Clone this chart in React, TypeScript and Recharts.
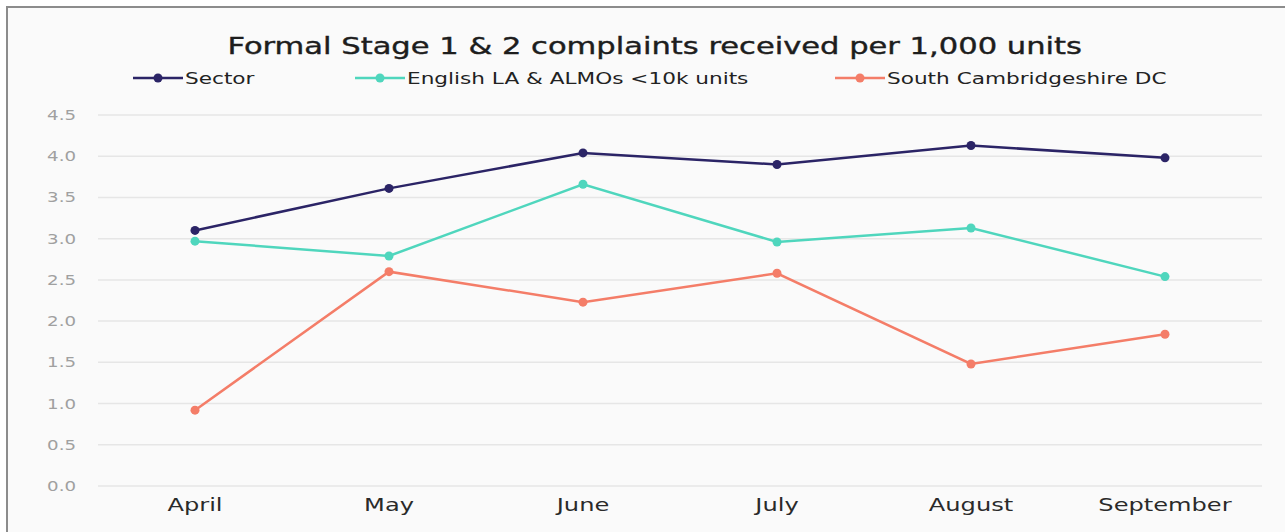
import React from "react"
import { LineChart, Line, XAxis, YAxis, CartesianGrid } from "recharts"

const months = ["April", "May", "June", "July", "August", "September"]
const sector = [3.1, 3.61, 4.04, 3.9, 4.13, 3.98]
const englishLA = [2.97, 2.79, 3.66, 2.96, 3.13, 2.54]
const southCambs = [0.92, 2.6, 2.23, 2.58, 1.48, 1.84]
const yTicks = [0, 0.5, 1, 1.5, 2, 2.5, 3, 3.5, 4, 4.5]

const SERIES = [
  { key: "sector", name: "Sector", color: "#2b2466" },
  { key: "english", name: "English LA & ALMOs <10k units", color: "#4fd6bd" },
  { key: "south", name: "South Cambridgeshire DC", color: "#f47d68" },
]

const data = months.map((m, i) => ({
  month: m,
  sector: sector[i],
  english: englishLA[i],
  south: southCambs[i],
}))

const FONT = "'DejaVu Sans', sans-serif"
// the source picture is stretched sideways, so text is widened to match
const SX = 1.3

const LEGEND_X = [133, 355, 835]

function LegendRow() {
  return (
    <div style={{ position: "absolute", top: 67, left: 0, width: 1285, height: 22 }}>
      {SERIES.map((s, i) => (
        <div
          key={s.key}
          style={{
            position: "absolute",
            left: LEGEND_X[i],
            top: 0,
            display: "flex",
            alignItems: "center",
            height: 22,
            whiteSpace: "nowrap",
          }}
        >
          <svg width={50} height={12}>
            <line x1={0} y1={6} x2={50} y2={6} stroke={s.color} strokeWidth={2.5} />
            <circle cx={25} cy={6} r={4.5} fill={s.color} />
          </svg>
          <span
            style={{
              display: "inline-block",
              fontSize: 16,
              color: "#222",
              marginLeft: 2,
              transform: "scaleX(1.35)",
              transformOrigin: "left center",
            }}
          >
            {s.name}
          </span>
        </div>
      ))}
    </div>
  )
}

function XTick(props: any) {
  const { x, y, payload } = props
  return (
    <text
      x={x}
      y={y}
      dy="0.71em"
      textAnchor="middle"
      fill="#2a2a2a"
      fontSize={18}
      fontFamily={FONT}
      transform={`translate(${x},0) scale(1.34,1) translate(${-x},0)`}
    >
      {payload.value}
    </text>
  )
}

function YTick(props: any) {
  const { x, y, payload } = props
  return (
    <text
      x={x}
      y={y}
      dy="0.36em"
      textAnchor="end"
      fill="#a0a0a0"
      fontSize={14}
      fontFamily={FONT}
      transform={`translate(${x},0) scale(${SX},1) translate(${-x},0)`}
    >
      {Number(payload.value).toFixed(1)}
    </text>
  )
}

export default function App() {
  return (
    <div
      style={{
        position: "absolute",
        left: 0,
        top: 0,
        width: 1285,
        height: 532,
        background: "#ffffff",
        fontFamily: FONT,
        overflow: "hidden",
      }}
    >
      <div
        style={{
          position: "absolute",
          left: 6,
          top: 6,
          width: 1290,
          height: 540,
          borderLeft: "2px solid #8c8c8c",
          borderTop: "2px solid #8c8c8c",
          background: "#fafafa",
        }}
      />
      <div
        style={{
          position: "absolute",
          top: 32,
          left: 0,
          width: 1310,
          textAlign: "center",
          whiteSpace: "nowrap",
        }}
      >
        <span
          style={{
            display: "inline-block",
            fontSize: 23.5,
            fontWeight: 500,
            color: "#1d1d1d",
            transform: `scaleX(${SX})`,
            transformOrigin: "center",
            WebkitTextStroke: "0.4px #1d1d1d",
          }}
        >
          Formal Stage 1 &amp; 2 complaints received per 1,000 units
        </span>
      </div>
      <LegendRow />
      <div style={{ position: "absolute", left: 0, top: 0 }}>
        <LineChart
          width={1285}
          height={532}
          data={data}
          margin={{ top: 115, right: 23, bottom: 16, left: 0 }}
        >
          <CartesianGrid vertical={false} stroke="#e6e6e6" strokeWidth={1.5} />
          <XAxis
            dataKey="month"
            axisLine={false}
            tickLine={false}
            tickSize={0}
            tickMargin={12}
            tick={XTick}
            interval={0}
            height={30}
            padding={{ left: 97, right: 97 }}
          />
          <YAxis
            domain={[0, 4.5]}
            ticks={yTicks}
            axisLine={false}
            tickLine={false}
            tickSize={0}
            tickMargin={22}
            width={98}
            tick={YTick}
          />
          {SERIES.map((s) => (
            <Line
              key={s.key}
              type="linear"
              dataKey={s.key}
              name={s.name}
              stroke={s.color}
              strokeWidth={2.5}
              dot={{ r: 4.5, fill: s.color, stroke: s.color, strokeWidth: 0 }}
              isAnimationActive={false}
            />
          ))}
        </LineChart>
      </div>
    </div>
  )
}
